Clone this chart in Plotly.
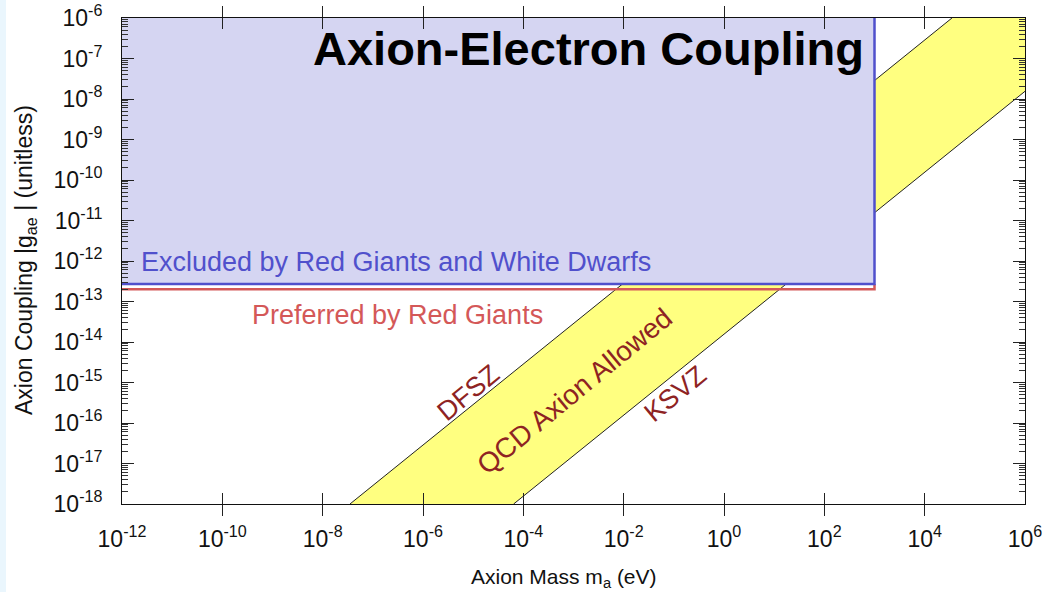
import plotly.graph_objects as go

# Axis ranges (log10 decades)
mass_range = [-12, 6]
coupling_range = [-18, -6]

# QCD axion band edges: (mass in eV, coupling)
dfsz_mass = [3.5e-8, 3.5e4]
dfsz_g = [1e-18, 1e-6]
ksvz_mass = [6.4e-5, 1e6]
ksvz_g = [1e-18, 1.55e-8]

# Red giant / white dwarf exclusion box
excl_mass = [1e-12, 1e3]
excl_g_low = 2.7e-13
excl_g_high = 1e-6
# Red giant preferred coupling
pref_g = 2.0e-13

x_tick_exps = [-12, -10, -8, -6, -4, -2, 0, 2, 4, 6]
y_tick_exps = list(range(-18, -5))

FONT = "Liberation Sans"
TEXT_RED = "#8e2323"
BLUE_LINE = "#5050cc"
BLUE_FILL = "#d5d5f2"
RED_LINE = "#d45858"
YELLOW = "#ffff80"

fig = go.Figure()

# Yellow allowed band
band_x = [dfsz_mass[0], dfsz_mass[1], 10 ** mass_range[1], ksvz_mass[1], ksvz_mass[0]]
band_y = [dfsz_g[0], dfsz_g[1], 10 ** coupling_range[1], ksvz_g[1], ksvz_g[0]]
fig.add_trace(go.Scatter(x=band_x, y=band_y, fill="toself", fillcolor=YELLOW,
                         mode="none", hoverinfo="skip"))
fig.add_trace(go.Scatter(x=dfsz_mass, y=dfsz_g, mode="lines",
                         line=dict(color="#222", width=1)))
fig.add_trace(go.Scatter(x=ksvz_mass, y=ksvz_g, mode="lines",
                         line=dict(color="#222", width=1)))

# Preferred-by-red-giants outline
fig.add_trace(go.Scatter(x=[excl_mass[0], excl_mass[1], excl_mass[1]],
                         y=[pref_g, pref_g, excl_g_low], mode="lines",
                         line=dict(color=RED_LINE, width=2.5)))

# Exclusion region
fig.add_trace(go.Scatter(x=[excl_mass[0], excl_mass[1], excl_mass[1], excl_mass[0]],
                         y=[excl_g_low, excl_g_low, excl_g_high, excl_g_high],
                         fill="toself", fillcolor=BLUE_FILL, mode="none",
                         hoverinfo="skip"))
fig.add_trace(go.Scatter(x=[excl_mass[0], excl_mass[1], excl_mass[1]],
                         y=[excl_g_low, excl_g_low, excl_g_high], mode="lines",
                         line=dict(color=BLUE_LINE, width=2.5), cliponaxis=False))

# Invisible trace that carries the minor-tick axis
fig.add_trace(go.Scatter(x=[10.0 ** mass_range[0]], y=[10.0 ** coupling_range[0]],
                         yaxis="y2", mode="markers", marker=dict(opacity=0),
                         hoverinfo="skip"))

minor_y = [k * 10.0 ** e for e in range(coupling_range[0], coupling_range[1]) for k in range(2, 10)]

fig.update_layout(
    xaxis=dict(
        type="log", range=mass_range, automargin=False,
        tickmode="array", tickvals=[10.0 ** e for e in x_tick_exps],
        ticktext=[f"10<sup>{e}</sup>" for e in x_tick_exps],
        ticks="inside", ticklen=11, tickcolor="#222", tickwidth=1,
        showline=True, linecolor="#111", linewidth=1, mirror="allticks",
        showgrid=False, zeroline=False,
        tickfont=dict(family=FONT, size=23, color="#111"), ticklabelstandoff=14,
    ),
    yaxis=dict(
        type="log", range=coupling_range, automargin=False,
        tickmode="array", tickvals=[10.0 ** e for e in y_tick_exps],
        ticktext=[f"10<sup>{e}</sup>" for e in y_tick_exps],
        ticks="inside", ticklen=12, tickcolor="#222", tickwidth=1,
        showline=True, linecolor="#111", linewidth=1, mirror="allticks",
        showgrid=False, zeroline=False,
        tickfont=dict(family=FONT, size=23, color="#111"), ticklabelstandoff=14,
    ),
    yaxis2=dict(
        type="log", range=coupling_range, overlaying="y", side="left",
        automargin=False, tickmode="array", tickvals=minor_y,
        ticks="inside", ticklen=6, tickcolor="#333", tickwidth=1,
        showticklabels=False, showline=False, mirror="ticks",
        showgrid=False, zeroline=False,
    ),
)

L, R, T, B = 122, 21, 18, 88
W, H = 1046, 592
pw, ph = W - L - R, H - T - B


def px(xp):
    return (xp - L) / pw


def py(yp):
    return (H - B - yp) / ph


annotations = [
    dict(text="<b>Axion-Electron Coupling</b>", x=px(866), y=py(48), xanchor="right",
         yanchor="middle", font=dict(family=FONT, size=47, color="#000")),
    dict(text="Excluded by Red Giants and White Dwarfs", x=px(139), y=py(262),
         xanchor="left", yanchor="middle", font=dict(family=FONT, size=27, color=BLUE_LINE)),
    dict(text="Preferred by Red Giants", x=px(397), y=py(315), xanchor="center",
         yanchor="middle", font=dict(family=FONT, size=27, color=RED_LINE)),
    dict(text="DFSZ", x=px(468), y=py(393), textangle=-39.5,
         font=dict(family=FONT, size=27, color=TEXT_RED)),
    dict(text="QCD Axion Allowed", x=px(574), y=py(391), textangle=-39.5,
         font=dict(family=FONT, size=28, color=TEXT_RED)),
    dict(text="KSVZ", x=px(675), y=py(394), textangle=-39.5,
         font=dict(family=FONT, size=27, color=TEXT_RED)),
    dict(text="Axion Mass m<sub>a</sub> (eV)", x=px(564), y=py(578),
         font=dict(family=FONT, size=21, color="#111")),
    dict(text="Axion Coupling |g<sub>ae</sub> | (unitless)", x=px(25), y=py(260),
         textangle=-90, font=dict(family=FONT, size=23, color="#111")),
]
for a in annotations:
    a.update(xref="paper", yref="paper", showarrow=False)
    a.setdefault("xanchor", "center")
    a.setdefault("yanchor", "middle")

fig.update_layout(
    width=W, height=H,
    margin=dict(l=L, r=R, t=T, b=B, autoexpand=False),
    paper_bgcolor="white", plot_bgcolor="white",
    showlegend=False,
    annotations=annotations,
    shapes=[dict(type="rect", xref="paper", yref="paper",
                 x0=px(0), x1=px(6), y0=py(H), y1=py(0),
                 fillcolor="#eaf6fd", line=dict(width=0), layer="below")],
)

fig.write_html("out.html")
